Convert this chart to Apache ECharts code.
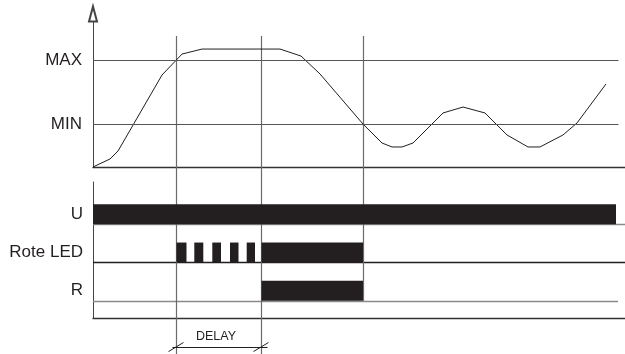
<!DOCTYPE html>
<html>
<head>
<meta charset="utf-8">
<script src="https://cdn.jsdelivr.net/npm/echarts@6/dist/echarts.min.js"></script>
<style>
html, body { margin: 0; padding: 0; background: #fff; }
#chart { width: 625px; height: 354px; }
</style>
</head>
<body>
<div id="chart"></div>
<script>
// Messsignal (Zeit in willkürlichen Einheiten)
var signalTime = [0, 1.7, 2.5, 6.9, 8.9, 10.9, 18.7, 20.8, 22.7, 27.0, 28.9, 29.9, 30.9, 32.0, 35.0, 37.0, 39.2, 41.4, 43.5, 44.7, 47.0, 48.4, 51.3];
var signalValue = [0, 0.77, 1.53, 8.82, 10.83, 11.31, 11.31, 10.64, 8.92, 4.12, 2.30, 1.92, 1.92, 2.30, 5.18, 5.75, 5.18, 3.07, 1.92, 1.92, 3.07, 4.22, 7.96];
// Schwellwerte
var levelNames = ['MIN', 'MAX'];
var levelValues = [4.1, 10.2];
// Spuren unten, von unten nach oben
var laneNames = ['R', 'Rote LED', 'U'];
// Einschaltphasen: [Spur, Start, Ende]
var uOn = [[2, 0, 52.3]];
var ledOn = [[1, 8.35, 9.35], [1, 10.13, 11.03], [1, 11.93, 12.8], [1, 13.7, 14.55], [1, 15.37, 16.2], [1, 16.85, 27.0]];
var rOn = [[0, 16.85, 27.0]];
// Zeitpunkte der senkrechten Hilfslinien
var eventTimes = [8.33, 16.83, 27.0];
var delayText = 'DELAY';

var ink = '#231f20';
var barH = 0.52;          // Balkenhöhe in Spur-Einheiten
var laneLineEnd = [52.5, 53.2, 53.2];
var laneLineColor = ['#8a8a8a', '#231f20', '#8a8a8a'];
var font = 'Arial, "Liberation Sans", sans-serif';

var chart = echarts.init(document.getElementById('chart'));

function nearestName(v, vals, names) {
    var best = 0;
    for (var i = 1; i < vals.length; i++) {
        if (Math.abs(vals[i] - v) < Math.abs(vals[best] - v)) best = i;
    }
    return names[best];
}

function renderBar(params, api) {
    var lane = api.value(0);
    var p0 = api.coord([api.value(1), lane]);
    var p1 = api.coord([api.value(2), lane + barH]);
    return {
        type: 'rect',
        shape: { x: p0[0], y: p1[1], width: p1[0] - p0[0], height: p0[1] - p1[1] },
        style: { fill: ink }
    };
}

var option = {
    animation: false,
    grid: [
        { left: 93, right: 0, top: 21, height: 146 },
        { left: 93, right: 0, top: 182, height: 136 }
    ],
    xAxis: [
        {
            gridIndex: 0, type: 'value', min: 0, max: 53.2,
            axisLine: { onZero: false, lineStyle: { color: '#333', width: 1.3 } },
            axisTick: { show: false }, axisLabel: { show: false }, splitLine: { show: false }
        },
        {
            gridIndex: 1, type: 'value', min: 0, max: 53.2,
            axisLine: { onZero: false, lineStyle: { color: '#333', width: 1.3 } },
            axisTick: { show: false }, axisLabel: { show: false }, splitLine: { show: false }
        }
    ],
    yAxis: [
        {
            gridIndex: 0, type: 'value', min: 0, max: 14,
            axisLine: {
                show: true,
                lineStyle: { color: '#444', width: 1 },
                symbol: ['none', 'emptyTriangle'],
                symbolSize: [8, 15],
                symbolOffset: [0, 7]
            },
            axisTick: { show: false },
            splitLine: { show: false },
            axisLabel: {
                customValues: levelValues,
                margin: 11,
                color: ink, fontSize: 17, fontFamily: font,
                formatter: function (v) { return nearestName(v, levelValues, levelNames); }
            }
        },
        {
            gridIndex: 1, type: 'value', min: -0.45, max: 3.1,
            axisLine: { show: true, lineStyle: { color: '#444', width: 1 } },
            axisTick: { show: false },
            splitLine: { show: false },
            axisLabel: {
                customValues: [barH / 2, 1 + barH / 2, 2 + barH / 2],
                margin: 10,
                color: ink, fontSize: 17, fontFamily: font,
                formatter: function (v) { return laneNames[Math.round(v - barH / 2)]; }
            }
        }
    ],
    series: [
        {
            name: 'Signal', type: 'line', xAxisIndex: 0, yAxisIndex: 0,
            data: signalTime.map(function (t, i) { return [t, signalValue[i]]; }),
            symbol: 'none', smooth: false,
            lineStyle: { color: ink, width: 1 },
            markLine: {
                silent: true, symbol: 'none', label: { show: false },
                lineStyle: { color: '#555', width: 1.2, type: 'solid' },
                data: levelValues.map(function (v) {
                    return [{ coord: [0, v] }, { coord: [52.55, v] }];
                })
            },
            z: 3
        },
        {
            name: 'Spurlinien', type: 'custom', xAxisIndex: 1, yAxisIndex: 1,
            data: laneNames.map(function (n, i) { return [i]; }),
            renderItem: function (params, api) {
                var lane = api.value(0);
                var a = api.coord([0, lane]);
                var b = api.coord([laneLineEnd[lane], lane]);
                return {
                    type: 'line',
                    shape: { x1: a[0], y1: Math.round(a[1]) + 0.5, x2: b[0], y2: Math.round(b[1]) + 0.5 },
                    style: { stroke: laneLineColor[lane], lineWidth: 1.4 }
                };
            },
            z: 1
        },
        {
            name: 'Ereignisse', type: 'custom', xAxisIndex: 1, yAxisIndex: 1,
            data: eventTimes.map(function (t) { return [t]; }),
            renderItem: function (params, api) {
                var t = api.value(0);
                var p = api.coord([t, 0]);
                var x = Math.round(p[0]) + 0.5;
                var yEnd = params.dataIndex < 2 ? api.getHeight() : p[1];
                return {
                    type: 'line',
                    shape: { x1: x, y1: 36, x2: x, y2: yEnd },
                    style: { stroke: '#6b6b6b', lineWidth: 1.2 }
                };
            },
            z: 2
        },
        { name: 'U', type: 'custom', xAxisIndex: 1, yAxisIndex: 1, data: uOn, renderItem: renderBar, z: 4 },
        { name: 'Rote LED', type: 'custom', xAxisIndex: 1, yAxisIndex: 1, data: ledOn, renderItem: renderBar, z: 4 },
        { name: 'R', type: 'custom', xAxisIndex: 1, yAxisIndex: 1, data: rOn, renderItem: renderBar, z: 4 },
        {
            name: 'Delay', type: 'custom', xAxisIndex: 1, yAxisIndex: 1,
            data: [[eventTimes[0], eventTimes[1]]],
            renderItem: function (params, api) {
                var xa = Math.round(api.coord([api.value(0), 0])[0]) + 0.5;
                var xb = Math.round(api.coord([api.value(1), 0])[0]) + 0.5;
                var y = 347.5;
                var st = { stroke: ink, lineWidth: 1 };
                return {
                    type: 'group',
                    children: [
                        { type: 'line', shape: { x1: xa - 4, y1: y, x2: xb + 6, y2: y }, style: st },
                        { type: 'line', shape: { x1: xa - 8, y1: y + 4, x2: xa + 7, y2: y - 5 }, style: st },
                        { type: 'line', shape: { x1: xb - 8, y1: y + 4, x2: xb + 7, y2: y - 5 }, style: st },
                        {
                            type: 'text',
                            style: {
                                text: delayText, x: (xa + xb) / 2 - 3, y: y - 4,
                                align: 'center', verticalAlign: 'bottom',
                                fontSize: 12.5, fontFamily: font, fill: ink
                            }
                        }
                    ]
                };
            },
            z: 3
        }
    ]
};

chart.setOption(option);
</script>
</body>
</html>
